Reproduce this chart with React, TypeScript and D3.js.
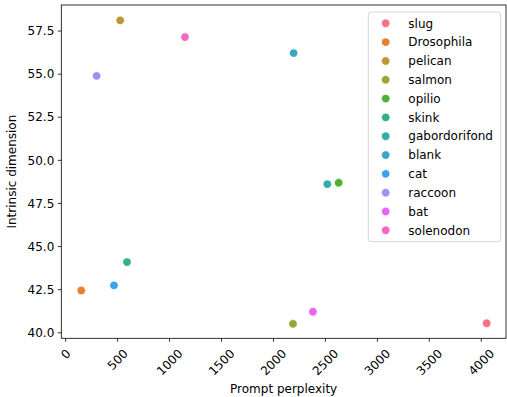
import React from "react";
import * as d3 from "d3";

const species = ["slug", "Drosophila", "pelican", "salmon", "opilio", "skink", "gabordorifond", "blank", "cat", "raccoon", "bat", "solenodon"];
const perplexity = [4052, 150, 525, 2188, 2627, 590, 2518, 2194, 465, 298, 2380, 1148];
const intrinsicDim = [40.55, 42.45, 58.12, 40.52, 48.7, 44.1, 48.62, 56.22, 42.75, 54.9, 41.22, 57.15];
const colors = ["#f77189", "#e5822f", "#bb9832", "#9aa431", "#50b131", "#34ae8a", "#36ada4", "#38a8c2", "#3ba3ec", "#a48cf4", "#e665f4", "#f668c2"];
const xTicks = [0, 500, 1000, 1500, 2000, 2500, 3000, 3500, 4000];
const yTicks = [40.0, 42.5, 45.0, 47.5, 50.0, 52.5, 55.0, 57.5];

const W = 507, H = 397;
const left = 61.3, right = 506, top = 5, bottom = 338.3;
const FONT = "DejaVu Sans, sans-serif";

export default function App() {
  const x = d3.scaleLinear().domain([-42, 4238]).range([left, right]);
  const y = d3.scaleLinear().domain([39.68, 59.01]).range([bottom, top]);
  const fs = 12;
  const legX = 368.3, legY = 12, legW = 132.4, legH = 229.7;
  const rowH = 18.82;
  return (
    <svg width={W} height={H} style={{ position: "absolute", left: 0, top: 0, fontFamily: FONT }}>
      <rect x={0} y={0} width={W} height={H} fill="#fff" />
      {species.map((s, i) => (
        <circle key={s} cx={x(perplexity[i])} cy={y(intrinsicDim[i])} r={4.2} fill={colors[i]} stroke="#fff" strokeWidth={0.6} />
      ))}
      <rect x={left} y={top} width={right - left} height={bottom - top} fill="none" stroke="#000" strokeWidth={0.8} />
      {yTicks.map((t) => (
        <g key={t}>
          <line x1={left} x2={left - 3.5} y1={y(t)} y2={y(t)} stroke="#000" strokeWidth={0.8} />
          <text x={left - 7} y={y(t)} dy="0.35em" textAnchor="end" fontSize={fs} fill="#000">{t.toFixed(1)}</text>
        </g>
      ))}
      {xTicks.map((t) => {
        const label = String(t);
        const w = label.length * 7.6;
        const cy = bottom + 10.2 + (w + 8.5) / (2 * Math.SQRT2);
        const cx = x(t);
        return (
          <g key={t}>
            <line x1={cx} x2={cx} y1={bottom} y2={bottom + 3.5} stroke="#000" strokeWidth={0.8} />
            <text x={cx} y={cy} dy="0.35em" textAnchor="middle" fontSize={fs} fill="#000" transform={`rotate(-45 ${cx} ${cy})`}>{label}</text>
          </g>
        );
      })}
      <text x={(left + right) / 2} y={393} textAnchor="middle" fontSize={fs} fill="#000">Prompt perplexity</text>
      <text transform={`translate(16 ${(top + bottom) / 2}) rotate(-90)`} textAnchor="middle" fontSize={fs} fill="#000">Intrinsic dimension</text>
      <rect x={legX} y={legY} width={legW} height={legH} rx={3} fill="#fff" fillOpacity={0.8} stroke="#cccccc" strokeWidth={0.8} />
      {species.map((s, i) => (
        <g key={"l" + s}>
          <circle cx={385.7} cy={23.3 + i * rowH} r={4.2} fill={colors[i]} stroke="#fff" strokeWidth={0.6} />
          <text x={408.3} y={23.3 + i * rowH} dy="0.35em" fontSize={fs} fill="#000">{s}</text>
        </g>
      ))}
    </svg>
  );
}
